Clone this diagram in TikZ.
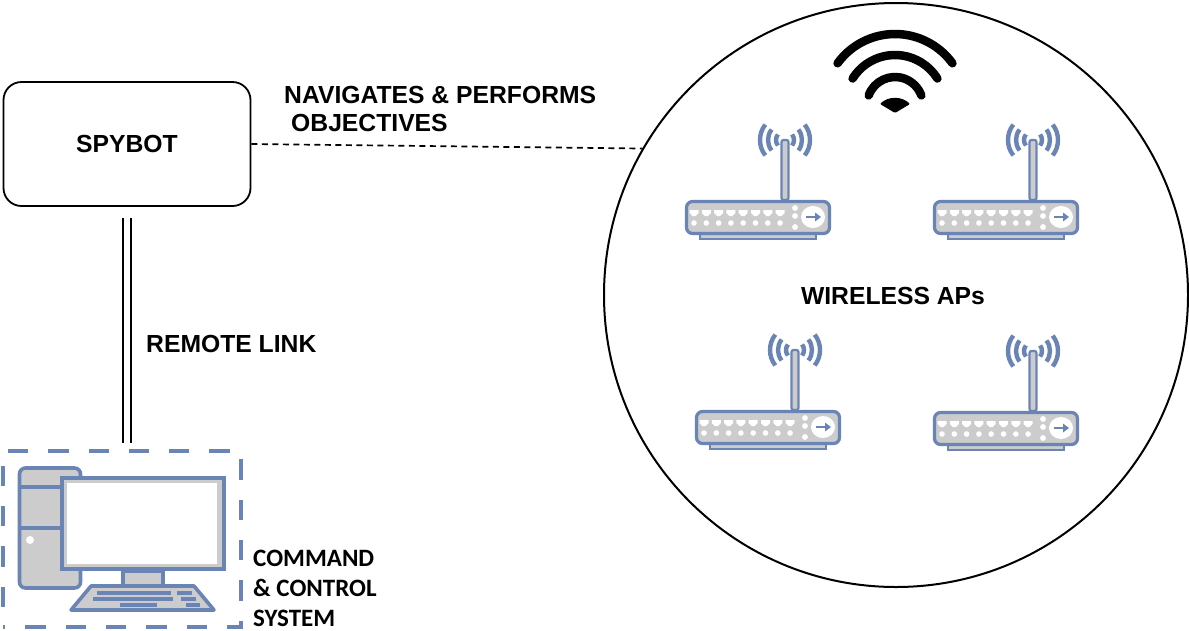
\documentclass[tikz,border=0pt]{standalone}
\usepackage{fontspec}
\setmainfont{Liberation Sans}
\newfontfamily\cmdfont{Carlito}
\usepackage{xcolor}
\usetikzlibrary{positioning,calc}
\definecolor{netblue}{HTML}{6A84B5}
\definecolor{netgray}{HTML}{CCCCCC}
\tikzset{
  bluepen/.style={draw=netblue,line width=3.6pt,fill=netgray},
  keyline/.style={netblue,line width=3.4pt},
  biglabel/.style={font=\bfseries\fontsize{24.7}{28}\selectfont,inner sep=0pt},
  cmdlabel/.style={font=\cmdfont\bfseries\fontsize{25}{30}\selectfont,inner sep=0pt},
  router/.pic={
    % antenna
    \draw[draw=netblue,line width=2.2pt,fill=netgray,rounded corners=2pt] (96.5,0) -- (96.5,-60) -- (103.5,-60) -- (103.5,0) -- cycle;
    \foreach \r in {9,17,25} {
      \draw[netblue,line width=4.4pt] (100,-60) ++(-38:\r) arc[start angle=-38,end angle=38,radius=\r];
      \draw[netblue,line width=4.4pt] (100,-60) ++(142:\r) arc[start angle=142,end angle=218,radius=\r];
    }
    % base and body
    \draw[bluepen,line width=2.8pt] (15,34) rectangle (131,39);
    \draw[bluepen,line width=3.2pt,rounded corners=6pt] (1.5,1.5) rectangle (144.5,33.5);
    \foreach \i in {0,...,7} {
      \fill[white] (9+12.3*\i-4.5,10) -- (9+12.3*\i+4.5,10) -- (9+12.3*\i+4.5,13) -- (9+12.3*\i+1.5,16) -- (9+12.3*\i-1.5,16) -- (9+12.3*\i-4.5,13) -- cycle;
      \fill[white] (9+12.3*\i,23) circle (2.8);
    }
    \foreach \y in {8,16,27} \fill[white] (110,\y) circle (2.9);
    \fill[white] (128,17) ellipse (12 and 11);
    \draw[netblue,line width=2.8pt] (121,17) -- (131,17);
    \fill[netblue] (136,17) -- (130,12.5) -- (130,21.5) -- cycle;
  }
}
\begin{document}
\begin{tikzpicture}[x=1pt,y=-1pt]
  \useasboundingbox (0,0) rectangle (1189,630);
  % left side
  \node[draw,line width=1.8pt,rounded corners=18pt,minimum width=247pt,minimum height=124pt,biglabel] (spybot) at (127,144) {SPYBOT};
  \node[draw=netblue,line width=4pt,dash pattern=on 20.3pt off 20pt,dash phase=18pt,minimum width=238pt,minimum height=176pt,inner sep=0pt] (cmdbox) at (122,538.7) {};
  \draw[line width=2pt,double,double distance=5.5pt,shorten <=11pt,shorten >=6pt] (spybot.south) -- (spybot.south |- cmdbox.north);
  \node[biglabel,anchor=west] (remote) at (146,344) {REMOTE LINK};
  \node[cmdlabel,anchor=north west,align=left,text depth=0pt] (cmdtext) at (253,550) {COMMAND\\\& CONTROL\\SYSTEM};
  % computer
  \draw[bluepen,rounded corners=6pt] (19.5,468) rectangle (80.5,588);
  \draw[netblue,line width=3.6pt] (20,487) -- (60,487) (20,528) -- (60,528);
  \fill[white] (30,540) circle (4);
  \draw[bluepen,line width=4pt] (62,478) rectangle (224,569);
  \fill[white] (67,483) rectangle (217,564);
  \draw[bluepen] (123,571) rectangle (163,586);
  \draw[bluepen,line join=round] (91,586) -- (194,586) -- (214,610) -- (71,610) -- cycle;
  \draw[keyline] (97,593) -- (171,593) (177,593) -- (192,593);
  \draw[keyline] (93,599) -- (173,599) (181,599) -- (196,599);
  \draw[keyline] (120,605) -- (157,605) (186,605) -- (200,605);
  % wireless area
  \node[draw,circle,line width=2pt,minimum size=584pt,inner sep=0pt] (zone) at (896,295) {};
  \draw[line width=1.7pt,dash pattern=on 6pt off 4.5pt] (spybot.east) -- (zone.150);
  \node[biglabel,anchor=north west,align=left] (goal) at (284,86) {NAVIGATES \& PERFORMS\\\hspace{7pt}OBJECTIVES};
  \node[biglabel] (aps) at (893,296) {WIRELESS APs};
  \pic (ap1) at (685,200) {router};
  \pic (ap2) at (933,200) {router};
  \pic (ap3) at (695,410) {router};
  \pic (ap4) at (933,411) {router};
  % wifi mark
  \draw[line width=8.5pt,line cap=round] (895,105) ++(216:71) arc[start angle=216,end angle=324,radius=71];
  \draw[line width=8.5pt,line cap=round] (895,105) ++(212:50) arc[start angle=212,end angle=328,radius=50];
  \draw[line width=8.5pt,line cap=round] (895,105) ++(200:28) arc[start angle=200,end angle=340,radius=28];
  \fill[rounded corners=1pt] (895,113) -- (880,104) .. controls (888,96) and (902,96) .. (910,104) -- cycle;
\end{tikzpicture}
\end{document}
